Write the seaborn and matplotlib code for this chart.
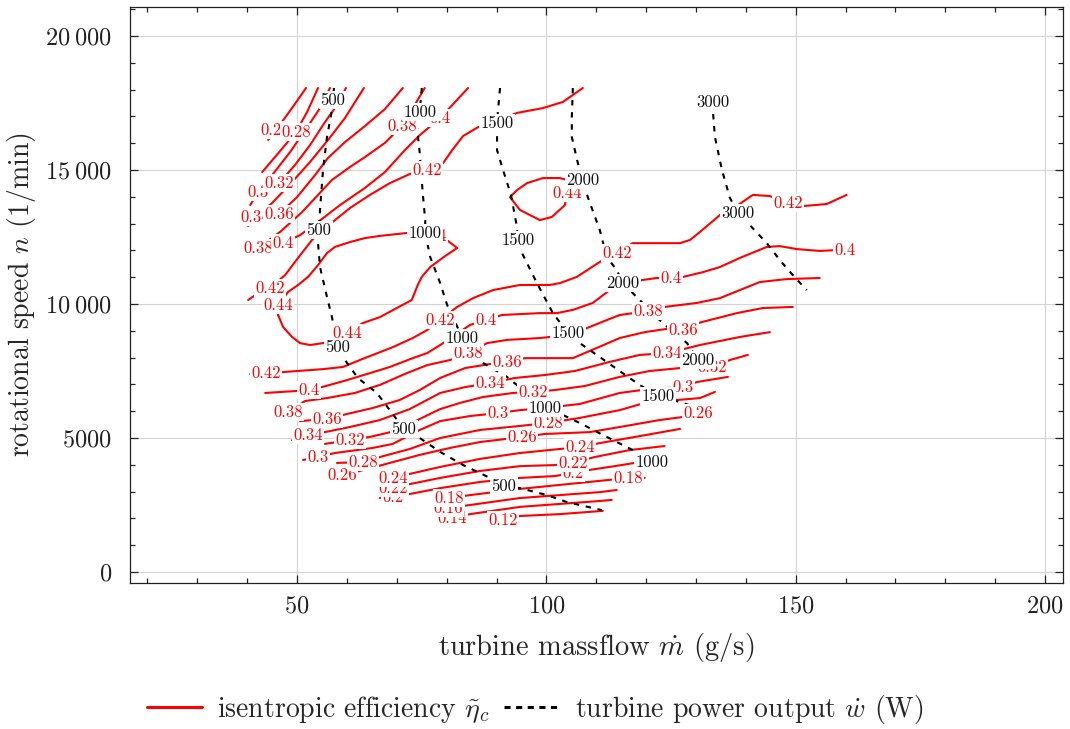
import matplotlib
matplotlib.use("Agg")
import matplotlib.pyplot as plt
from matplotlib.lines import Line2D
from matplotlib.ticker import MultipleLocator, FuncFormatter
import seaborn as sns

# ---------------------------------------------------------------------------
# Isentropic efficiency iso-lines: massflow (g/s) and rotational speed (1/min)
# ---------------------------------------------------------------------------
eff_012_x = [88.3, 91.3, 94.7, 102.7, 111.3]
eff_012_y = [1900, 1940, 2090, 2160, 2280]
eff_014_x = [78.1, 81.1, 84.7, 94.7, 102.7, 110.7, 113.1]
eff_014_y = [1940, 2010, 2160, 2430, 2540, 2650, 2690]
eff_016_x = [77.3, 80.3, 84.7, 94.7, 102.7, 110.7, 114.1]
eff_016_y = [2310, 2390, 2500, 2760, 2870, 2980, 3060]
eff_018_x = [77.7, 80.5, 84.7, 94.7, 102.7, 110.7, 116.3, 119.7]
eff_018_y = [2690, 2760, 2870, 3100, 3250, 3400, 3510, 3510]
eff_020_x = [66.6, 69.2, 72.6, 78.7, 86.7, 94.7, 101.7, 105.3, 108.7, 113.7, 118.7]
eff_020_y = [2760, 2800, 2910, 3130, 3360, 3510, 3580, 3690, 3810, 3950, 4100]
eff_022_x = [66.6, 69.2, 72.6, 78.7, 86.7, 94.7, 101.7, 105.3, 109.7, 116.7, 123.7]
eff_022_y = [3100, 3130, 3280, 3510, 3770, 3950, 3990, 4070, 4290, 4550, 4700]
eff_024_x = [66.6, 69.2, 72.6, 78.7, 86.7, 94.7, 102.7, 106.7, 110.7, 118.7, 126.8]
eff_024_y = [3470, 3510, 3660, 3920, 4220, 4440, 4590, 4660, 4810, 5070, 5340]
eff_026_x = [56.2, 59.0, 62.6, 68.6, 74.6, 80.7, 86.7, 91.7, 95.1, 99.7, 108.7, 114.7,
             122.7, 127.2, 130.4]
eff_026_y = [3540, 3620, 3770, 4070, 4370, 4630, 4850, 4960, 5040, 5150, 5220, 5410,
             5670, 5780, 5930]
eff_028_x = [58.0, 63.2, 66.6, 72.6, 78.7, 86.7, 94.7, 100.3, 106.7, 114.7, 119.7, 122.3,
             126.4, 130.8, 133.8]
eff_028_y = [4070, 4100, 4290, 4590, 5000, 5300, 5450, 5560, 5750, 6040, 6310, 6490,
             6420, 6490, 6720]
eff_030_x = [51.2, 54.2, 57.6, 65.2, 69.2, 74.6, 78.7, 84.7, 90.3, 94.7, 99.7, 106.7,
             114.7, 120.7, 127.4, 130.2, 136.4]
eff_030_y = [4180, 4290, 4440, 4630, 4780, 5300, 5630, 5820, 5930, 6040, 6120, 6270,
             6680, 6830, 6900, 7090, 7280]
eff_032_x = [55.6, 60.6, 64.6, 70.6, 74.6, 78.7, 82.7, 87.3, 93.3, 97.3, 101.7, 107.7,
             114.7, 120.7, 126.8, 133.2, 136.8, 140.4]
eff_032_y = [4780, 4920, 5040, 5300, 5710, 6080, 6310, 6530, 6680, 6720, 6790, 6940,
             7280, 7500, 7610, 7650, 7910, 8100]
eff_034_x = [49.0, 52.2, 55.6, 60.6, 66.6, 72.6, 78.7, 83.7, 88.7, 93.7, 99.7, 105.7,
             112.7, 118.7, 124.3, 130.8, 138.8, 144.8]
eff_034_y = [4920, 5110, 5220, 5410, 5670, 6080, 6680, 6900, 7050, 7240, 7350, 7500,
             7840, 8100, 8170, 8470, 8770, 8950]
eff_036_x = [50.6, 56.0, 59.2, 65.2, 70.6, 74.6, 78.7, 83.7, 88.7, 92.1, 95.7, 105.3,
             110.1, 114.7, 119.7, 124.1, 127.4, 130.4, 138.2, 143.4, 149.4]
eff_036_y = [5630, 5710, 5860, 6120, 6420, 6790, 7240, 7610, 7760, 7840, 7980, 7980,
             8360, 8730, 8950, 9070, 9030, 9290, 9660, 9850, 9890]
eff_038_x = [46.2, 48.2, 51.6, 56.0, 61.6, 66.6, 72.0, 76.1, 80.7, 84.3, 88.1, 92.1,
             98.7, 100.7, 104.3, 108.1, 112.1, 114.7, 120.5, 123.7, 130.2, 134.8, 138.8,
             142.8, 148.2, 154.8]
eff_038_y = [5820, 5970, 6380, 6490, 6680, 6980, 7420, 7720, 7910, 8170, 8540, 8660,
             8730, 8770, 8920, 9100, 9400, 9590, 9740, 9890, 10040, 10220, 10520,
             10820, 10930, 10970]
eff_040_x = [43.6, 49.6, 52.4, 55.0, 60.0, 64.6, 68.6, 73.2, 76.1, 79.3, 82.3, 84.7,
             87.9, 91.1, 98.7, 102.1, 105.3, 109.3, 112.7, 115.7, 119.1, 122.1, 124.9,
             127.4, 131.4, 134.8, 138.8, 144.2, 146.8, 150.2, 154.8, 157.8, 159.8]
eff_040_y = [6680, 6750, 6790, 6900, 7160, 7420, 7650, 7980, 8170, 8540, 8920, 9220,
             9400, 9590, 9660, 9660, 9780, 10040, 10520, 10780, 10890, 10970, 10970,
             11010, 11190, 11380, 11720, 12130, 12160, 12050, 11980, 12010, 12010]
eff_042_x = [40.6, 43.8, 47.2, 55.2, 59.2, 62.6, 65.2, 69.2, 73.2, 76.1, 78.7, 82.1,
             85.3, 89.3, 94.7, 100.7, 102.7, 106.1, 110.7, 114.1, 117.3, 126.8, 128.8,
             130.8, 134.8, 138.4, 141.4, 144.8, 148.4, 151.8, 156.2, 160.2]
eff_042_y = [7390, 7420, 7460, 7570, 7650, 7910, 8100, 8390, 8730, 9030, 9400, 9890,
             10220, 10520, 10710, 10710, 10780, 11010, 11570, 11900, 12270, 12270,
             12390, 12690, 13320, 13690, 14070, 14030, 13770, 13660, 13730, 14070]

# upper-left branch (high speed, low massflow)
eff_026u_x = [44.2, 45.6, 46.8, 49.4, 51.8]
eff_026u_y = [16120, 16490, 16750, 17420, 18060]
eff_028u_x = [43.0, 46.6, 49.8, 52.0, 54.2]
eff_028u_y = [14920, 15710, 16420, 17160, 18060]
eff_030u_x = [40.6, 42.2, 45.0, 48.6, 52.2, 54.6, 56.6]
eff_030u_y = [13690, 14180, 14810, 15670, 16640, 17310, 18060]
eff_032u_x = [43.4, 46.4, 49.6, 52.6, 55.6, 58.0, 59.8]
eff_032u_y = [14070, 14510, 15190, 15930, 16790, 17420, 18060]
eff_034u_x = [40.2, 41.6, 45.0, 49.0, 52.6, 56.2, 59.6, 63.4]
eff_034u_y = [12910, 13250, 13770, 14550, 15300, 16120, 16940, 18060]
eff_036u_x = [44.0, 46.4, 50.0, 53.6, 56.2, 59.6, 63.6, 67.6, 71.2]
eff_036u_y = [13060, 13360, 13990, 14810, 15450, 16040, 16640, 17270, 18060]
eff_038u_x = [40.6, 42.2, 46.6, 51.0, 57.0, 60.6, 63.6, 67.6, 71.0, 73.0, 75.6]
eff_038u_y = [11790, 12090, 12690, 13430, 14630, 15110, 15480, 16010, 16640, 17240, 18060]
eff_040u_x = [43.8, 47.2, 50.6, 54.2, 58.6, 63.6, 67.6, 71.6, 74.6, 78.7, 81.1, 84.3]
eff_040u_y = [11900, 12270, 12570, 13060, 13690, 14330, 14920, 15740, 16300, 16940,
              17420, 18060]
eff_042u_x = [40.2, 41.6, 44.6, 47.6, 50.2, 53.0, 56.6, 60.6, 64.6, 68.6, 72.6, 76.1,
              79.3, 81.1, 83.3, 86.3, 90.1, 94.1, 99.3, 103.3, 107.3]
eff_042u_y = [10150, 10330, 10600, 11080, 11720, 12390, 12980, 13580, 14070, 14510,
              14850, 15000, 15260, 15740, 16270, 16600, 16830, 17130, 17310, 17540, 18060]

# closed islands of peak efficiency
eff_044a_x = [46.2, 47.2, 49.0, 50.6, 52.6, 55.2, 60.0, 63.2, 66.6, 70.0, 73.0, 74.2,
              75.0, 76.7, 79.7, 82.1, 80.3, 77.1, 72.0, 66.6, 63.6, 60.6, 57.6, 56.0,
              54.2, 52.2, 50.2, 48.2, 46.2, 46.2]
eff_044a_y = [9590, 9140, 8770, 8540, 8470, 8540, 8920, 9290, 9510, 9850, 10150, 10710,
              11010, 11380, 11790, 12090, 12350, 12540, 12650, 12540, 12460, 12310,
              12130, 11900, 11450, 11010, 10710, 10450, 9960, 9590]
eff_044b_x = [104.1, 105.7, 102.7, 99.3, 96.1, 94.1, 92.7, 94.7, 98.7, 101.1, 103.7, 104.1]
eff_044b_y = [14140, 14550, 14700, 14700, 14510, 14250, 13990, 13510, 13130, 13250,
              13690, 14140]

# ---------------------------------------------------------------------------
# Turbine power output iso-lines (W)
# ---------------------------------------------------------------------------
pw_500_x = [57.4, 57.2, 57.0, 56.0, 55.2, 54.6, 54.4, 54.2, 54.6, 56.0, 57.0, 57.8,
            58.2, 59.6, 62.2, 66.0, 68.6, 71.4, 74.6, 78.7, 83.3, 88.7, 91.5, 94.7,
            100.1, 104.1, 111.1]
pw_500_y = [18060, 17610, 17240, 16230, 15000, 13510, 12760, 12270, 11380, 10260, 9510,
            8660, 8390, 7910, 7240, 6680, 6040, 5340, 5000, 4480, 3990, 3510, 3210,
            3130, 2870, 2610, 2310]
pw_1000_x = [75.0, 74.6, 74.0, 74.6, 75.2, 75.7, 75.7, 76.7, 78.7, 80.1, 81.3, 83.1,
             84.7, 87.3, 92.1, 95.3, 99.7, 103.3, 106.7, 112.1, 117.3, 121.1]
pw_1000_y = [18060, 17160, 16680, 15630, 14140, 13130, 12650, 11750, 10780, 9960, 9510,
             8730, 8280, 7800, 7280, 6790, 6120, 5860, 5560, 5040, 4550, 4100]
pw_1500_x = [90.7, 90.3, 90.1, 90.1, 90.1, 91.3, 92.9, 94.1, 94.3, 95.1, 98.1, 101.3,
             104.3, 106.7, 110.7, 115.3, 118.7, 122.3, 126.8, 131.8]
pw_1500_y = [18060, 17240, 16750, 16230, 15740, 15000, 14070, 12870, 12390, 11900,
             10780, 9660, 8920, 8540, 8020, 7420, 6980, 6570, 6340, 6040]
pw_2000_x = [105.3, 105.1, 105.1, 106.3, 107.3, 108.3, 110.7, 112.1, 114.1, 115.3,
             117.3, 123.3, 128.2, 130.4, 134.2, 137.2]
pw_2000_y = [18060, 16980, 16230, 15260, 14630, 13990, 12760, 11750, 11270, 10780,
             10410, 9290, 8540, 7910, 7800, 7460]
pw_3000_x = [133.4, 133.4, 133.8, 135.2, 136.8, 138.4, 140.4, 144.2, 146.8, 149.4, 152.2]
pw_3000_y = [17540, 17160, 16230, 15000, 13960, 13390, 13020, 12270, 11640, 11080, 10520]

# (level, x, y, vertices that carry an inline label)
efficiency_lines = [
    (0.12, eff_012_x, eff_012_y, [1]),
    (0.14, eff_014_x, eff_014_y, [1]),
    (0.16, eff_016_x, eff_016_y, [1]),
    (0.18, eff_018_x, eff_018_y, [1, 6]),
    (0.20, eff_020_x, eff_020_y, [1, 7]),
    (0.22, eff_022_x, eff_022_y, [1, 7]),
    (0.24, eff_024_x, eff_024_y, [1, 7]),
    (0.26, eff_026_x, eff_026_y, [1, 8, 14]),
    (0.26, eff_026u_x, eff_026u_y, [1]),
    (0.28, eff_028_x, eff_028_y, [1, 7]),
    (0.28, eff_028u_x, eff_028u_y, [2]),
    (0.30, eff_030_x, eff_030_y, [1, 8, 14]),
    (0.30, eff_030u_x, eff_030u_y, [1]),
    (0.32, eff_032_x, eff_032_y, [1, 9, 15]),
    (0.32, eff_032u_x, eff_032u_y, [1]),
    (0.34, eff_034_x, eff_034_y, [1, 8, 14]),
    (0.34, eff_034u_x, eff_034u_y, [1]),
    (0.36, eff_036_x, eff_036_y, [1, 9, 16]),
    (0.36, eff_036u_x, eff_036u_y, [1]),
    (0.38, eff_038_x, eff_038_y, [1, 9, 18]),
    (0.38, eff_038u_x, eff_038u_y, [1, 8]),
    (0.40, eff_040_x, eff_040_y, [2, 12, 22, 32]),
    (0.40, eff_040u_x, eff_040u_y, [1, 9]),
    (0.42, eff_042_x, eff_042_y, [1, 10, 19, 28]),
    (0.42, eff_042u_x, eff_042u_y, [2, 11]),
    (0.44, eff_044a_x, eff_044a_y, [6, 17, 28]),
    (0.44, eff_044b_x, eff_044b_y, [0]),
]
power_lines = [
    (500, pw_500_x, pw_500_y, [1, 6, 12, 17, 22]),
    (1000, pw_1000_x, pw_1000_y, [1, 6, 11, 16, 21]),
    (1500, pw_1500_x, pw_1500_y, [2, 8, 12, 17]),
    (2000, pw_2000_x, pw_2000_y, [4, 9, 13]),
    (3000, pw_3000_x, pw_3000_y, [0, 5]),
]

# ---------------------------------------------------------------------------
sns.set_style("ticks")
plt.rcParams.update({
    "font.family": "serif",
    "font.serif": ["cmr10"],
    "mathtext.fontset": "cm",
    "axes.unicode_minus": False,
    "axes.formatter.use_mathtext": True,
})

fig = plt.figure(figsize=(10.7, 7.29), dpi=100)
ax = fig.add_axes([0.1215, 0.2003, 0.872, 0.790])

RED = "#ff0000"
DASH = (0, (2.6, 3.2))
label_box = dict(boxstyle="square,pad=0.08", fc="white", ec="none")

for level, xs, ys, lab in efficiency_lines:
    sns.lineplot(x=xs, y=ys, sort=False, estimator=None, color=RED, linewidth=1.5,
                 ax=ax, legend=False, zorder=3)
for level, xs, ys, lab in power_lines:
    sns.lineplot(x=xs, y=ys, sort=False, estimator=None, color="black", linewidth=1.5,
                 linestyle=DASH, ax=ax, legend=False, zorder=4)

for level, xs, ys, lab in efficiency_lines:
    for i in lab:
        ax.text(xs[i], ys[i], f"{level:g}", color=RED, fontsize=12, ha="center",
                va="center", bbox=label_box, zorder=6)
for level, xs, ys, lab in power_lines:
    for i in lab:
        ax.text(xs[i], ys[i], f"{level:d}", color="#111111", fontsize=12, ha="center",
                va="center", bbox=label_box, zorder=7)

ax.set_xlim(16.5, 203.6)
ax.set_ylim(-410, 21080)
ax.xaxis.set_major_locator(MultipleLocator(50))
ax.xaxis.set_minor_locator(MultipleLocator(10))
ax.yaxis.set_major_locator(MultipleLocator(5000))
ax.yaxis.set_minor_locator(MultipleLocator(1000))


def thin_group(v, pos):
    v = int(round(v))
    if abs(v) >= 10000:
        return r"$%d\:%03d$" % (v // 1000, v % 1000)
    return r"$%d$" % v


ax.yaxis.set_major_formatter(FuncFormatter(thin_group))
ax.xaxis.set_major_formatter(FuncFormatter(lambda v, p: r"$%d$" % int(round(v))))
ax.tick_params(which="both", direction="in", top=True, right=True, labelsize=17.5,
               width=0.9, colors="#222222")
ax.tick_params(axis="x", which="major", pad=9)
ax.tick_params(axis="y", which="major", pad=13)
ax.tick_params(which="major", length=6)
ax.tick_params(which="minor", length=3.5)
for s in ax.spines.values():
    s.set_linewidth(0.9)
    s.set_color("#222222")
ax.grid(True, which="major", color="#d3d3d3", linewidth=0.8, zorder=0)
ax.set_axisbelow(True)

ax.set_xlabel(r"turbine massflow $\dot{m}$ (g/s)", fontsize=20.5, labelpad=10)
ax.set_ylabel(r"rotational speed $n$ (1/min)", fontsize=20, labelpad=5)

handles = [Line2D([], [], color=RED, linewidth=2.2),
           Line2D([], [], color="black", linewidth=2.2, linestyle=(0, (2.0, 1.8)))]
fig.legend(handles,
           [r"isentropic efficiency $\tilde{\eta}_c$",
            r"turbine power output $\dot{w}$ (W)"],
           loc="center", bbox_to_anchor=(0.5, 0.027), ncol=2, frameon=False,
           fontsize=20, handlelength=2.0, handletextpad=0.55, columnspacing=0.5)

fig.savefig("out.png", dpi=100)
